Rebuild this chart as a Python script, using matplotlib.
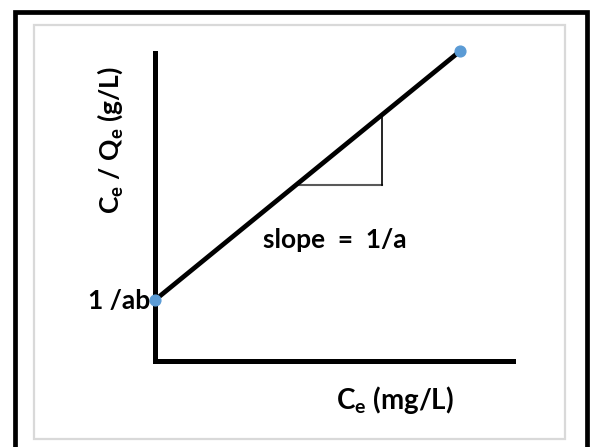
import matplotlib
matplotlib.use("Agg")
import matplotlib.pyplot as plt
from matplotlib.patches import Rectangle

W, H = 593, 447

# Langmuir linear form (arbitrary units)
ce = [0.0, 8.52]
ce_over_qe = [1.98, 10.06]

# slope triangle
tri_x = [3.93, 6.34, 6.34]
tri_y = [5.71, 5.71, 7.99]

x_label = r"C$_\mathregular{e}$ (mg/L)"
y_label = r"C$_\mathregular{e}$ / Q$_\mathregular{e}$ (g/L)"
slope_text = "slope  =  1/a"
intercept_text = "1 /ab"

plt.rcParams['font.family'] = ['Lato', 'DejaVu Sans']
plt.rcParams['mathtext.fontset'] = 'custom'
plt.rcParams['mathtext.rm'] = 'Lato:bold'

fig = plt.figure(figsize=(W / 100, H / 100), dpi=100)


def px(x, y):
    return x / W, 1 - y / H


# outer black frame and inner grey frame
fig.patches.append(Rectangle(px(15, 460), 572 / W, 448 / H, transform=fig.transFigure,
                             fill=False, edgecolor='black', linewidth=3.4))
fig.patches.append(Rectangle(px(34, 439), 531 / W, 414 / H, transform=fig.transFigure,
                             fill=False, edgecolor='#d9d9d9', linewidth=1.6))

# plot area: left spine at x=155, bottom spine at y=361
l, b = px(155, 361)
ax = fig.add_axes([l, b, (513 - 155) / W, (361 - 53) / H])
ax.set_xlim(0, 10)
ax.set_ylim(0, 10)
ax.patch.set_alpha(0)
for s in ['top', 'right']:
    ax.spines[s].set_visible(False)
for s in ['left', 'bottom']:
    ax.spines[s].set_linewidth(3.6)
    ax.spines[s].set_capstyle('projecting')
ax.set_xticks([])
ax.set_yticks([])

ax.plot(ce, ce_over_qe, color='black', linewidth=3.4, clip_on=False, zorder=3)
ax.scatter(ce, ce_over_qe, s=60, color='#5b9bd5', clip_on=False, zorder=4)

ax.plot(tri_x[:2], tri_y[:2], color='#595959', linewidth=1.5, clip_on=False)
ax.plot(tri_x[1:], tri_y[1:], color='black', linewidth=1.2, clip_on=False)

fs = 19
fig.text(*px(335, 240), slope_text, fontsize=fs, fontweight='bold', ha='center', va='center')
fig.text(*px(150, 301), intercept_text, fontsize=fs, fontweight='bold', ha='right', va='center')
fig.text(*px(395, 400), x_label, fontsize=20, fontweight='bold', ha='center', va='center')
fig.text(*px(110, 140), y_label, fontsize=fs, fontweight='bold', ha='center', va='center',
         rotation=90)

fig.savefig('out.png', dpi=100)
